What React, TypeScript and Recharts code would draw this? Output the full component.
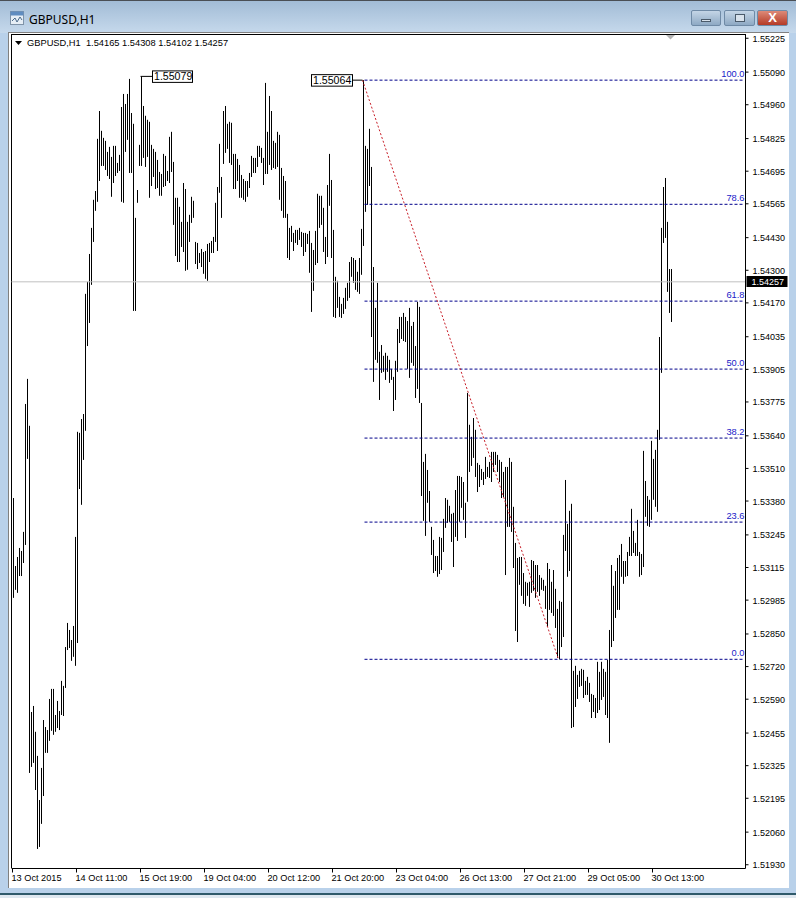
import { Bar, ComposedChart, ReferenceLine, XAxis, YAxis } from 'recharts';

const FONT = '"Liberation Sans", Arial, sans-serif';

// hourly highs / lows in points (1.00000 = 100000)
const highPoints = [
  153392, 153121, 153157, 153193, 153181, 153257, 153767, 153867, 153680, 152539,
  152563, 152460, 152364, 152188, 152316, 152507, 152479, 152467, 152591, 152631,
  152631, 152527, 152583, 152543, 152663, 152643, 152798, 152894, 152866, 152826,
  152882, 153237, 153656, 153652, 153707, 153727, 154206, 154254, 154365, 154469,
  154581, 154616, 154824, 154935, 154856, 154828, 154816, 154772, 154792, 154752,
  154796, 154796, 154728, 154760, 154951, 155003, 154963, 155003, 155063, 154927,
  154884, 154509, 154620, 154800, 155073, 154955, 154916, 154900, 154892, 154800,
  154784, 154772, 154740, 154692, 154684, 154764, 154756, 154696, 154832, 154852,
  154732, 154589, 154589, 154553, 154493, 154648, 154624, 154493, 154521, 154593,
  154577, 154413, 154409, 154369, 154385, 154373, 154377, 154405, 154409, 154417,
  154433, 154569, 154632, 154804, 154672, 154935, 154955, 154884, 154892, 154888,
  154764, 154764, 154744, 154720, 154680, 154664, 154656, 154656, 154688, 154756,
  154748, 154748, 154796, 154796, 154788, 154748, 155047, 154852, 154995, 154935,
  154816, 154808, 154852, 154840, 154708, 154676, 154656, 154525, 154469, 154477,
  154449, 154461, 154461, 154469, 154453, 154449, 154449, 154445, 154457, 154409,
  154381, 154457, 154605, 154597, 154597, 154549, 154433, 154640, 154764, 154660,
  154461, 154274, 154258, 154194, 154166, 154190, 154230, 154250, 154333, 154353,
  154349, 154341, 154294, 154349, 154465, 155058, 154796, 154784, 154864, 154712,
  154313, 154150, 154250, 153975, 154002, 153959, 153971, 153959, 153943, 153907,
  153875, 153939, 154066, 154114, 154114, 154130, 154114, 154098, 154150, 154078,
  154094, 153998, 154174, 154154, 153771, 153536, 153568, 153504, 153420, 153277,
  153225, 153161, 153161, 153237, 153233, 153309, 153392, 153385, 153361, 153329,
  153333, 153424, 153480, 153480, 153476, 153456, 153373, 153811, 153684, 153636,
  153711, 153664, 153532, 153524, 153508, 153496, 153556, 153516, 153536, 153576,
  153576, 153576, 153564, 153544, 153536, 153496, 153516, 153516, 153552, 153536,
  153357, 153213, 153153, 153157, 153157, 153093, 153058, 153054, 153058, 153145,
  153141, 153125, 153125, 153085, 153074, 153066, 153042, 153133, 153109, 153058,
  153105, 153030, 152950, 152982, 152978, 153245, 153464, 153289, 153341, 153369,
  152703, 152723, 152687, 152703, 152711, 152707, 152663, 152679, 152655, 152611,
  152607, 152595, 152739, 152699, 152739, 152711, 152699, 152747, 152866, 153125,
  153042, 153101, 153153, 153165, 153209, 153141, 153141, 153177, 153237, 153349,
  153261, 153213, 153305, 153177, 153169, 153580, 153460, 153400, 153385, 153620,
  153548, 153584, 153664, 154034, 154469, 154632, 154668, 154493, 154305, 154305,
];

const lowPoints = [
  152994, 153026, 153014, 153081, 153081, 153133, 153205, 153548, 152296, 152320,
  152336, 152228, 151993, 152001, 152093, 152204, 152376, 152376, 152424, 152464,
  152448, 152460, 152475, 152467, 152527, 152523, 152635, 152786, 152794, 152743,
  152759, 152723, 152814, 153428, 153365, 153544, 153660, 153998, 154090, 154242,
  154413, 154537, 154573, 154656, 154716, 154716, 154700, 154676, 154664, 154593,
  154648, 154676, 154688, 154696, 154573, 154569, 154772, 154820, 154688, 154688,
  154138, 154138, 154569, 154716, 154716, 154748, 154712, 154752, 154589, 154636,
  154672, 154624, 154628, 154597, 154597, 154632, 154636, 154656, 154648, 154692,
  154481, 154357, 154333, 154333, 154393, 154373, 154298, 154302, 154413, 154489,
  154509, 154325, 154305, 154329, 154313, 154286, 154266, 154258, 154333, 154369,
  154369, 154413, 154377, 154609, 154509, 154724, 154768, 154784, 154728, 154720,
  154624, 154624, 154656, 154589, 154589, 154581, 154573, 154593, 154628, 154672,
  154688, 154688, 154712, 154752, 154728, 154640, 154684, 154684, 154720, 154700,
  154708, 154704, 154712, 154581, 154537, 154509, 154509, 154349, 154341, 154413,
  154377, 154409, 154401, 154421, 154393, 154357, 154373, 154405, 154290, 154134,
  154218, 154321, 154329, 154469, 154481, 154373, 154325, 154353, 154557, 154349,
  154114, 154110, 154150, 154114, 154110, 154126, 154146, 154178, 154190, 154274,
  154250, 154222, 154214, 154206, 154282, 154397, 154533, 154561, 154636, 154034,
  153855, 153943, 153931, 153783, 153891, 153895, 153863, 153895, 153851, 153863,
  153739, 153783, 153895, 154010, 154026, 154018, 154014, 153907, 153871, 153931,
  153919, 153791, 153827, 153771, 153400, 153301, 153241, 153373, 153297, 153165,
  153093, 153101, 153078, 153089, 153105, 153177, 153273, 153293, 153297, 153217,
  153117, 153237, 153221, 153297, 153353, 153305, 153233, 153377, 153496, 153520,
  153552, 153476, 153416, 153436, 153464, 153444, 153468, 153476, 153472, 153456,
  153496, 153524, 153496, 153456, 153392, 153396, 153085, 153277, 153277, 153257,
  153113, 152862, 152818, 153046, 153002, 152970, 152962, 153002, 152958, 153014,
  153022, 152994, 153018, 153002, 153026, 153022, 152950, 152878, 152946, 152934,
  152922, 152874, 152755, 152749, 152798, 152838, 153181, 153078, 153101, 152475,
  152479, 152559, 152591, 152639, 152643, 152595, 152607, 152607, 152579, 152515,
  152539, 152515, 152535, 152547, 152587, 152599, 152527, 152515, 152416, 152798,
  152822, 152914, 152946, 152946, 153078, 153050, 153078, 153081, 153161, 153161,
  153173, 153161, 153161, 153078, 153085, 153117, 153317, 153281, 153277, 153305,
  153385, 153357, 153337, 153624, 153891, 154409, 154429, 154214, 154130, 154094,
];

// bars are drawn every slot; the chart keeps empty slots on the right like MT4 does
const slotCount = 367;

const priceTicks = [
  1.55225, 1.5509, 1.5496, 1.54825, 1.54695, 1.54565, 1.5443, 1.543, 1.5417, 1.54035, 1.53905, 1.53775, 1.5364,
  1.5351, 1.5338, 1.53245, 1.53115, 1.52985, 1.5285, 1.5272, 1.5259, 1.52455, 1.52325, 1.52195, 1.5206, 1.5193,
];

const timeTicks = [0, 32, 64, 96, 128, 160, 192, 224, 256, 288, 320];
const timeLabels = [
  '13 Oct 2015', '14 Oct 11:00', '15 Oct 19:00', '19 Oct 04:00', '20 Oct 12:00', '21 Oct 20:00',
  '23 Oct 04:00', '26 Oct 13:00', '27 Oct 21:00', '29 Oct 05:00', '30 Oct 13:00',
];

const fibLevels = [1.55058, 1.54563, 1.54177, 1.53906, 1.53631, 1.53296, 1.52749];
const fibLabels = ['100.0', '78.6', '61.8', '50.0', '38.2', '23.6', '0.0'];

const fibStart = 176;
const swingHigh = { idx: 175, price: 1.55058 };
const swingLow = { idx: 273, price: 1.52749 };
const lastPrice = 1.54254;

const chartData = Array.from({ length: slotCount }, (_, idx) => ({
  idx,
  range: idx < highPoints.length ? [lowPoints[idx] / 100000, highPoints[idx] / 100000] : null,
}));

// one pixel wide stick snapped to the pixel grid, MT4 style
function HiLoStick({ x, y, height }: any) {
  if (!height) return null;
  return <rect x={Math.round(x)} y={y} width={1} height={height} fill="#000" />;
}

function TimeTick({ x, y, payload }: any) {
  return (
    <text x={x - 1} y={y + 6} fontSize={9.2} fontFamily={FONT} fill="#000">
      {timeLabels[timeTicks.indexOf(payload.value)]}
    </text>
  );
}

function PriceTick({ x, y, payload }: any) {
  return (
    <text x={x + 2} y={y + 3.5} fontSize={9} fontFamily={FONT} fill="#000">
      {payload.value.toFixed(5)}
    </text>
  );
}

function PriceBox({ viewBox }: any) {
  return (
    <g>
      <rect x={viewBox.x + viewBox.width + 1} y={276} width={41} height={11} fill="#000" />
      <text x={viewBox.x + viewBox.width + 6} y={285} fontSize={9} fontFamily={FONT} fill="#fff">
        1.54257
      </text>
    </g>
  );
}

function HighBox({ viewBox }: any) {
  return (
    <g>
      <rect x={viewBox.x + viewBox.width} y={viewBox.y - 5.5} width={40} height={11.5} fill="#fff" stroke="#000" />
      <text x={viewBox.x + viewBox.width + 1.5} y={viewBox.y + 4} fontSize={10.6} fontFamily={FONT} fill="#000">
        1.55079
      </text>
    </g>
  );
}

function LowBox({ viewBox }: any) {
  return (
    <g>
      <rect x={viewBox.x - 41} y={viewBox.y - 5.5} width={41} height={11.5} fill="#fff" stroke="#000" />
      <text x={viewBox.x - 39.5} y={viewBox.y + 4} fontSize={10.6} fontFamily={FONT} fill="#000">
        1.55064
      </text>
    </g>
  );
}

function FibLabel({ viewBox, value }: any) {
  return (
    <text
      x={viewBox.x + viewBox.width}
      y={viewBox.y - 3}
      textAnchor="end"
      fontSize={9.3}
      fontFamily={FONT}
      fill="#2020c8"
    >
      {value}
    </text>
  );
}

function WindowButton({ left, width, bg, children }: any) {
  return (
    <div
      style={{
        position: 'absolute',
        left,
        top: 10,
        width,
        height: 16,
        borderRadius: 2,
        border: '1px solid #6f8aa6',
        boxSizing: 'border-box',
        background: bg,
      }}
    >
      {children}
    </div>
  );
}

export default function App() {
  return (
    <div
      style={{
        position: 'absolute',
        left: 0,
        top: 0,
        width: 796,
        height: 898,
        overflow: 'hidden',
        background: '#b9d1ea',
      }}
    >
      {/* window frame */}
      <div style={{ position: 'absolute', left: 0, top: 0, width: 796, height: 1, background: '#4a4f55' }} />
      <div
        style={{
          position: 'absolute',
          left: 0,
          top: 1,
          width: 796,
          height: 32,
          background: 'linear-gradient(to bottom, #a2bcd6, #c6d9ec)',
        }}
      />
      <div style={{ position: 'absolute', left: 0, top: 893, width: 796, height: 2, background: '#2f5a6b' }} />
      <div style={{ position: 'absolute', left: 0, top: 895, width: 796, height: 3, background: '#dfe8f0' }} />
      <div style={{ position: 'absolute', left: 8, top: 32, width: 781, height: 856, background: '#fff', borderLeft: '1px solid #808080', borderTop: '1px solid #808080', boxSizing: 'border-box' }} />
      <svg style={{ position: 'absolute', left: 10, top: 11 }} width={14} height={14}>
        <rect x={0.5} y={0.5} width={13} height={13} fill="#e6eef6" stroke="#7f93a8" />
        <rect x={0.5} y={0.5} width={13} height={4} fill="#5f8cc0" />
        <path d="M2 10 L5 7 L7 11 L10 6 L12 9" fill="none" stroke="#4a6a8a" />
      </svg>
      <div style={{ position: 'absolute', left: 29, top: 11, fontSize: 12, fontFamily: '"Noto Sans", sans-serif', color: '#000' }}>
        GBPUSD,H1
      </div>
      <WindowButton left={691} width={30} bg="linear-gradient(to bottom, #c4d5e6, #8ea9c4)">
        <div style={{ position: 'absolute', left: 9, top: 8, width: 10, height: 3, background: '#d8e2ec', border: '1px solid #4a5a6a', boxSizing: 'border-box' }} />
      </WindowButton>
      <WindowButton left={724} width={31} bg="linear-gradient(to bottom, #c4d5e6, #8ea9c4)">
        <div style={{ position: 'absolute', left: 10, top: 3, width: 10, height: 8, border: '1px solid #4a5a6a', boxSizing: 'border-box', background: '#d8e2ec' }} />
      </WindowButton>
      <WindowButton left={757} width={31} bg="linear-gradient(to bottom, #dd8a78, #b53a26)">
        <div style={{ position: 'absolute', left: 0, top: -1, width: 29, textAlign: 'center', fontSize: 13, fontWeight: 700, fontFamily: FONT, color: '#fff' }}>
          X
        </div>
      </WindowButton>

      <div style={{ position: 'absolute', left: 11, top: 34, width: 1, height: 834, background: '#000' }} />
      <div style={{ position: 'absolute', left: 11, top: 34, width: 735, height: 1, background: '#000' }} />

      <div style={{ position: 'absolute', left: 0, top: 0 }}>
        <ComposedChart
          width={796}
          height={898}
          data={chartData}
          margin={{ top: 34.5, left: 11.5, right: 0, bottom: 0 }}
          barCategoryGap={0}
        >
          <XAxis
            dataKey="idx"
            ticks={timeTicks}
            interval={0}
            height={29.5}
            tickSize={4}
            axisLine={{ stroke: '#000' }}
            tickLine={{ stroke: '#000' }}
            tick={TimeTick}
          />
          <YAxis
            orientation="right"
            width={50.5}
            domain={[1.51915, 1.5524]}
            allowDataOverflow
            ticks={priceTicks}
            interval={0}
            tickSize={3}
            axisLine={{ stroke: '#000' }}
            tickLine={{ stroke: '#000' }}
            tick={PriceTick}
          />
          <Bar dataKey="range" barSize={1} fill="#000" isAnimationActive={false} shape={HiLoStick} />
          <ReferenceLine y={lastPrice} stroke="#c0c0c0" label={PriceBox} />
          {fibLevels.map((level, i) => (
            <ReferenceLine
              key={fibLabels[i]}
              segment={[
                { x: fibStart, y: level },
                { x: slotCount - 1, y: level },
              ]}
              stroke="#00008b"
              strokeDasharray="3 2"
              label={<FibLabel value={fibLabels[i]} />}
            />
          ))}
          <ReferenceLine
            segment={[
              { x: swingHigh.idx, y: swingHigh.price },
              { x: swingLow.idx, y: swingLow.price },
            ]}
            stroke="#c81e28"
            strokeDasharray="2 2"
          />
          <ReferenceLine
            segment={[
              { x: 64, y: 1.55073 },
              { x: 70, y: 1.55073 },
            ]}
            stroke="#000"
            label={HighBox}
          />
          <ReferenceLine
            segment={[
              { x: 170, y: swingHigh.price },
              { x: 175, y: swingHigh.price },
            ]}
            stroke="#000"
            label={LowBox}
          />
        </ComposedChart>
      </div>

      <svg style={{ position: 'absolute', left: 0, top: 0, pointerEvents: 'none' }} width={796} height={60}>
        <path d="M15 41 L22 41 L18.5 45 Z" fill="#000" />
        <path d="M666 35 L675 35 L670.5 39.5 Z" fill="#b4b4b4" />
        <text x={27} y={46} fontSize={9.3} fontFamily={FONT} fill="#000" xmlSpace="preserve">
          GBPUSD,H1  1.54165 1.54308 1.54102 1.54257
        </text>
      </svg>
    </div>
  );
}
